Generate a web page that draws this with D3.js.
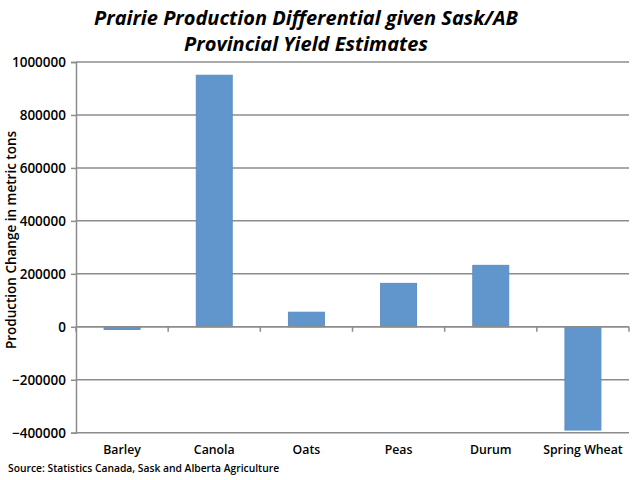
<!DOCTYPE html>
<html><head><meta charset="utf-8">
<script src="https://cdn.jsdelivr.net/npm/d3@7"></script>
<style>
html,body{margin:0;padding:0;background:#fff;}
svg{display:block;font-family:"Open Sans","DejaVu Sans",sans-serif;}
</style></head>
<body><svg id="c" width="640" height="480"></svg>
<script>
const categories = ["Barley","Canola","Oats","Peas","Durum","Spring Wheat"];
const values = [-10000, 950000, 55000, 164000, 232000, -390000];
const yTicks = [-400000,-200000,0,200000,400000,600000,800000,1000000];
const titleLines = ["Prairie Production Differential given Sask/AB","Provincial Yield Estimates"];
const yLabel = "Production Change  in metric tons";
const source = "Source: Statistics Canada, Sask and Alberta Agriculture";

const svg = d3.select("#c");
const m = {left:76, right:629, top:62, bottom:432.7};
const x = d3.scaleBand().domain(categories).range([m.left, m.right]).paddingInner(0.61).paddingOuter(0.305);
const y = d3.scaleLinear().domain([-400000,1000000]).range([m.bottom, m.top]);
const gridColor = "#8c8c8c";

// gridlines
svg.append("g").selectAll("line").data(yTicks).join("line")
  .attr("x1", m.left).attr("x2", m.right)
  .attr("y1", d=>y(d)).attr("y2", d=>y(d))
  .attr("stroke", gridColor).attr("stroke-width", 1.5);

// y axis
const yAxis = d3.axisLeft(y).tickValues(yTicks).tickSize(5).tickFormat(d3.format("d"));
const gy = svg.append("g").attr("transform",`translate(${m.left},0)`).call(yAxis);
gy.select(".domain").attr("stroke", gridColor).attr("stroke-width",1.5);
gy.selectAll(".tick line").attr("stroke", gridColor).attr("stroke-width",1.5);
gy.selectAll(".tick text").attr("font-size",13.5).attr("font-weight",600).attr("fill","#000").attr("x",-10)
  .attr("font-family","'Open Sans',sans-serif");

// bars
svg.append("g").selectAll("rect").data(values).join("rect")
  .attr("x", (d,i)=>x(categories[i]))
  .attr("width", x.bandwidth())
  .attr("y", d=>y(Math.max(0,d)))
  .attr("height", d=>Math.abs(y(d)-y(0)))
  .attr("fill","#6096cb").attr("stroke","#5b8fc4").attr("stroke-width",1);

// x axis at zero
const bounds = d3.range(categories.length+1).map(i=>m.left + i*(m.right-m.left)/categories.length);
svg.append("line").attr("x1",m.left).attr("x2",m.right).attr("y1",y(0)).attr("y2",y(0))
  .attr("stroke",gridColor).attr("stroke-width",1.5);
svg.append("g").selectAll("line").data(bounds).join("line")
  .attr("x1",d=>d).attr("x2",d=>d).attr("y1",y(0)).attr("y2",y(0)+5)
  .attr("stroke",gridColor).attr("stroke-width",1.5);

// category labels
svg.append("g").selectAll("text").data(categories).join("text")
  .attr("x", d=>x(d)+x.bandwidth()/2).attr("y", 454)
  .attr("text-anchor","middle").attr("font-size",12.3).attr("font-weight",600).text(d=>d);

// title
svg.append("g").selectAll("text").data(titleLines).join("text")
  .attr("x",306).attr("y",(d,i)=>25+i*26)
  .attr("text-anchor","middle").attr("font-size",20).attr("font-weight",700).attr("font-style","italic")
  .text(d=>d);

// y label
svg.append("text").attr("transform","translate(16,240) rotate(-90)")
  .attr("text-anchor","middle").attr("font-size",13.5).attr("font-weight",600).text(yLabel);

// source
svg.append("text").attr("x",8).attr("y",472).attr("font-size",10.3).attr("font-weight",600).text(source);
</script></body></html>
